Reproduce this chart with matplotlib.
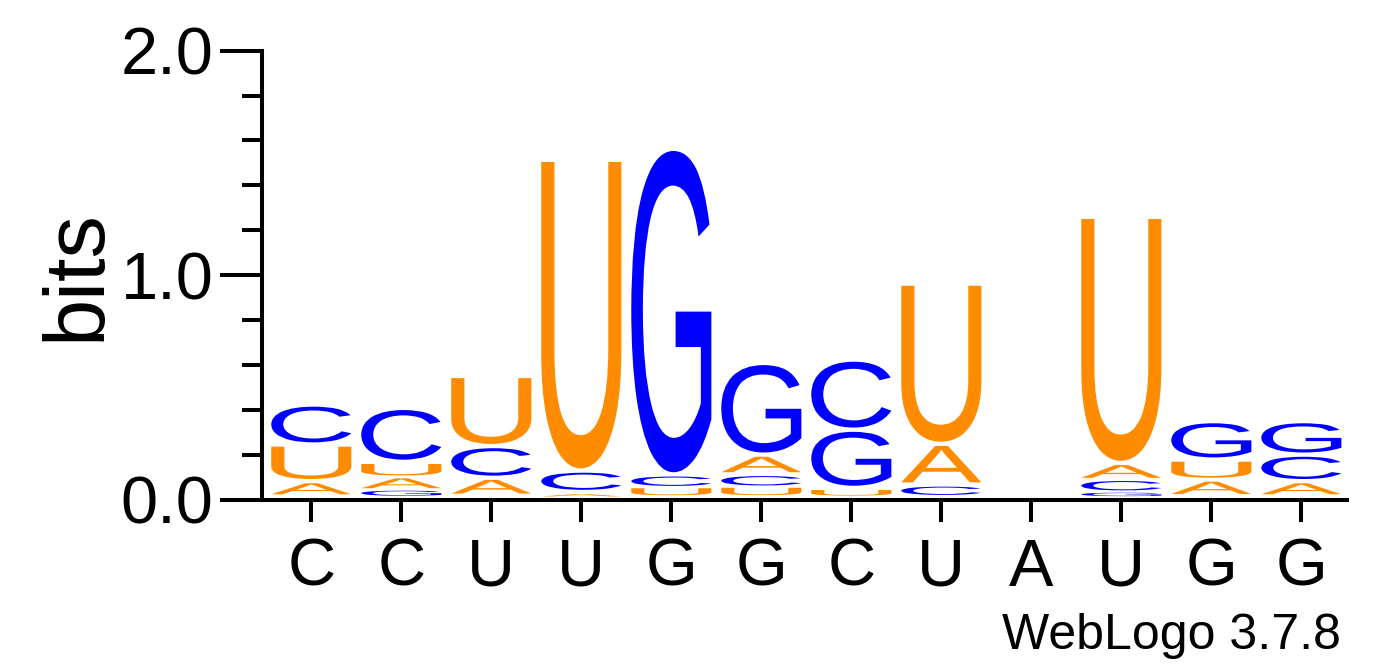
import matplotlib
matplotlib.use("Agg")
from matplotlib import pyplot as plt
from matplotlib.textpath import TextPath
from matplotlib.patches import PathPatch
from matplotlib.font_manager import FontProperties
import matplotlib.transforms as mtransforms
from matplotlib.ticker import MultipleLocator

plt.rcParams['font.family'] = ['Liberation Sans', 'DejaVu Sans']

positions = list(range(1, 13))
consensus = ['C', 'C', 'U', 'U', 'G', 'G', 'C', 'U', 'A', 'U', 'G', 'G']

# letters of each stack, bottom to top, and their heights in bits
stackLetters = [
    ['A', 'U', 'C'],
    ['G', 'A', 'U', 'C'],
    ['A', 'C', 'U'],
    ['A', 'C', 'U'],
    ['U', 'C', 'G'],
    ['U', 'C', 'A', 'G'],
    ['U', 'G', 'C'],
    ['C', 'A', 'U'],
    [],
    ['G', 'C', 'A', 'U'],
    ['A', 'U', 'G'],
    ['A', 'C', 'G'],
]
stackHeights = [
    [0.061, 0.163, 0.178],
    [0.028, 0.055, 0.064, 0.240],
    [0.076, 0.141, 0.312],
    [0.013, 0.095, 1.383],
    [0.039, 0.052, 1.449],
    [0.041, 0.052, 0.086, 0.408],
    [0.031, 0.259, 0.312],
    [0.046, 0.181, 0.713],
    [],
    [0.019, 0.052, 0.071, 1.095],
    [0.068, 0.089, 0.171],
    [0.061, 0.118, 0.149],
]

colors = {'A': '#FF8C00', 'U': '#FF8C00', 'C': '#0000FF', 'G': '#0000FF'}

W, H = 1392, 667
fig = plt.figure(figsize=(W / 100, H / 100), dpi=100)
ax = fig.add_axes([262.3 / W, (H - 500) / H, (1346.7 - 262.3) / W, (500 - 50.6) / H])

glyphFont = FontProperties(family='Liberation Sans')


def drawLetter(ax, letter, x, y0, y1, width, color):
    tp = TextPath((0, 0), letter, size=1, prop=glyphFont)
    bb = tp.get_extents()
    t = (mtransforms.Affine2D()
         .translate(-bb.x0, -bb.y0)
         .scale(width / bb.width, (y1 - y0) / bb.height)
         .translate(x - width / 2, y0))
    ax.add_patch(PathPatch(t.transform_path(tp), facecolor=color, edgecolor='none', lw=0))


base = 0.0134
glyphWidth = 0.89
for pos, letters, heights in zip(positions, stackLetters, stackHeights):
    y = base
    for letter, h in zip(letters, heights):
        gap = min(0.019, 0.2 * h)
        drawLetter(ax, letter, pos, y + gap, y + h, glyphWidth, colors[letter])
        y += h

ax.set_xlim(0.4556, 12.504)
ax.set_ylim(0, 2)

for side in ['top', 'right']:
    ax.spines[side].set_visible(False)
for side in ['left', 'bottom']:
    ax.spines[side].set_linewidth(2.9)

ax.set_yticks([0, 1, 2])
ax.set_yticklabels(['0.0', '1.0', '2.0'])
ax.yaxis.set_minor_locator(MultipleLocator(0.2))
ax.tick_params(axis='y', which='major', length=30, width=2.9, labelsize=48, pad=5)
ax.tick_params(axis='y', which='minor', length=14.5, width=2.9)

ax.set_xticks(positions)
ax.set_xticklabels(consensus)
ax.tick_params(axis='x', which='major', length=16, width=2.9, labelsize=48, pad=11)

fig.text(100 / W, 1 - 275 / H, 'bits', fontsize=61, rotation=90,
         rotation_mode='anchor', ha='center', va='baseline')
fig.text(1341 / W, 1 - 649.3 / H, 'WebLogo 3.7.8', fontsize=36,
         ha='right', va='baseline')

fig.savefig('out.png', dpi=100)
